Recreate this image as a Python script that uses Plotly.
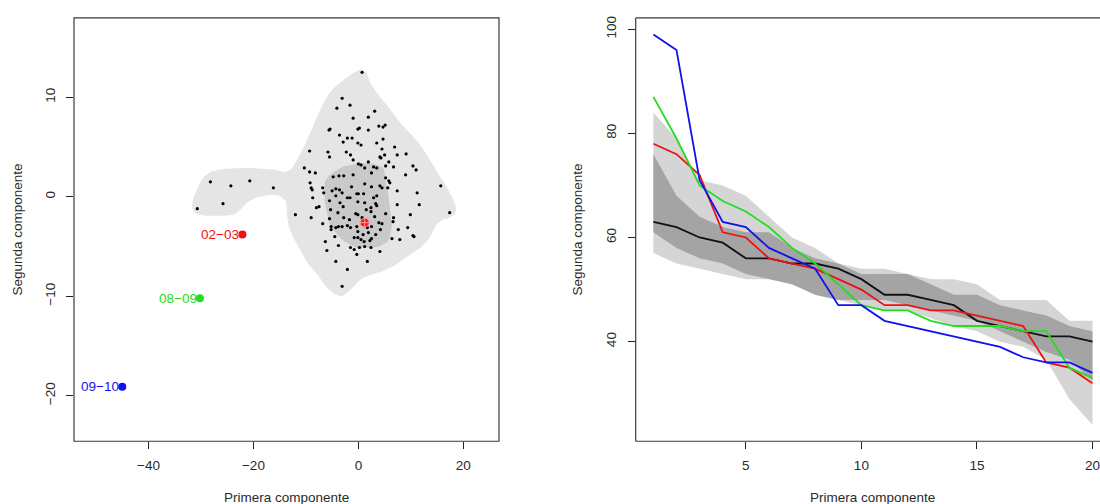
import plotly.graph_objects as go

# ---------------- Left panel data (bagplot) ----------------
pts_x = [0.7, -3.1, -1.6, -4.1, 3.1, -1.0, 1.9, -0.1, 0.2, -5.4, -5.6, 1.9, 3.9, 4.7, 5.1, -3.6, -2.1, -1.2, 4.7, -2.9,
         -0.1, 0.5, 3.5, -2.3, -1.5, -5.8, -5.5, -9.3, 4.5, 6.9, 4.1, 4.3, 5.0, 7.4, 9.1, -1.0, 1.9, 5.8, -10.3, -9.3,
         -8.2, 0.0, 0.5, 2.9, 3.5, 5.2, 6.7, 10.4, 11.0, 9.0, -4.8, -3.7, -2.8, -1.0, 1.2, 2.5, 5.2, 5.8, 6.0, -1.3,
         1.2, 2.5, 4.5, 4.1, -9.2, -9.0, -8.8, -8.7, -6.8, -6.6, -5.0, -4.3, -3.6, -4.3, -3.1, -2.1, -1.6, -0.3, 0.0, 1.0,
         2.9, 3.5, 5.6, 7.4, 11.2, 11.6, 15.7, 17.4, -5.5, -3.5, -0.1, 1.2, 2.4, 3.3, 3.5, 7.4, -8.0, -7.5, -5.3, -2.9,
         -3.9, -0.5, -0.1, 1.5, 2.4, 5.2, 9.9, -12.0, -9.0, 6.7, -5.5, -2.8, -1.7, 0.7, 3.1, 3.9, 4.5, 6.6, -6.8, -5.2,
         -5.2, -4.3, -3.8, -3.1, -2.1, -1.5, -0.3, 1.7, 2.5, -0.1, 9.4, 0.9, 1.9, 3.3, 4.2, 7.6, -4.5, -0.8, -0.1, 0.5,
         2.5, 6.4, 7.9, 10.4, 10.6, 1.1, 2.2, -6.3, -3.8, -1.5, 1.2, 0.2, -0.8, -6.0, 2.4, 4.1, -0.3, -4.3, 1.7, -2.1,
         -3.1, -28.2, -24.3, -20.7, -16.2, -25.8, -30.7]
pts_y = [12.5, 9.9, 9.2, 8.9, 8.6, 7.9, 8.0, 6.8, 6.9, 6.8, 6.7, 6.7, 7.1, 7.0, 7.2, 6.2, 5.9, 5.9, 5.8, 5.5,
         5.4, 5.2, 5.4, 4.5, 4.2, 4.5, 4.0, 4.6, 4.8, 5.0, 4.0, 3.9, 4.2, 4.2, 4.3, 3.7, 3.5, 3.5, 2.9, 2.5,
         2.4, 3.3, 3.2, 3.0, 2.9, 3.1, 3.0, 3.1, 2.7, 2.2, 2.0, 2.1, 2.1, 2.2, 2.9, 2.4, 1.9, 1.6, 1.4, 1.0,
         1.3, 1.0, 0.9, 1.1, 1.4, 0.9, 0.7, -0.1, 0.9, 0.4, 0.6, 0.8, 0.7, 0.1, 0.4, -0.1, -0.1, 0.3, 0.3, 0.3,
         -0.1, 0.1, 0.9, 0.6, 0.4, -0.8, 1.1, -1.6, -0.4, -0.6, -0.5, -0.6, -1.1, -0.7, -0.9, -0.8, -1.1, -1.0, -1.3, -1.0,
         -1.6, -1.7, -1.8, -1.3, -1.5, -1.7, -1.8, -1.8, -2.1, -2.1, -2.2, -2.1, -2.3, -2.1, -2.0, -2.6, -2.7, -2.5, -2.7, -3.0,
         -3.3, -3.1, -3.0, -3.0, -2.9, -3.1, -3.0, -3.1, -3.0, -3.5, -3.1, -3.8, -3.6, -3.8, -3.3, -3.3, -4.0, -4.1, -4.1, -4.3,
         -4.2, -4.2, -4.3, -3.9, -4.0, -4.5, -4.4, -4.5, -4.9, -5.1, -5.0, -5.1, -5.3, -5.4, -5.1, -5.5, -5.8, -6.5, -6.5, -7.3,
         -9.0, 1.5, 1.1, 1.6, 0.9, -0.7, -1.2]

loop_x = [0.5, 1.5, 2.2, 3.9, 5.9, 7.9, 10.2, 12.2, 13.9, 15.3, 16.6, 17.9, 18.6, 18.5, 17.4, 16.1, 14.9, 13.6, 11.9,
          9.9, 7.2, 4.5, 2.5, 0.5, -0.8, -2.1, -3.1, -4.5, -6.2, -7.8, -9.5, -10.8, -12.0, -12.9, -13.4, -13.6, -13.8,
          -15.0, -17.0, -19.5, -21.2, -22.3, -23.4, -24.5, -26.2, -28.9, -30.9, -31.7, -31.4, -30.6, -29.6, -28.2,
          -25.6, -21.5, -17.5, -15.5, -14.2, -12.8, -11.5, -10.2, -8.8, -7.5, -5.8, -4.1, -2.1, -0.8]
loop_y = [12.8, 12.5, 11.5, 10.2, 8.9, 7.5, 6.2, 4.9, 3.5, 2.2, 1.2, -0.1, -1.0, -1.6, -2.1, -2.3, -2.8, -4.1, -5.1,
          -5.8, -6.8, -7.5, -7.8, -8.3, -9.0, -9.6, -10.0, -9.8, -9.0, -7.8, -6.8, -5.6, -4.5, -3.5, -2.6, -1.6, -0.5,
          0.1, 0.2, -0.1, -0.6, -1.2, -1.7, -1.85, -1.9, -1.9, -1.7, -1.1, -0.1, 0.9, 1.9, 2.5,
          2.8, 2.9, 2.8, 2.7, 2.5, 2.8, 3.9, 5.2, 6.9, 8.5, 10.2, 11.2, 12.0, 12.5]

bag_x = [-2.9, 2.2, 4.75, 5.2, 5.7, 6.1, 6.35, 5.7, 4.0, 2.2, -0.3, -3.2, -5.4, -6.4, -6.4, -5.7]
bag_y = [3.05, 3.4, 2.9, 1.5, 0.2, -1.5, -3.1, -4.45, -5.0, -5.1, -5.1, -4.3, -2.8, -0.45, 1.4, 2.05]

median_x = [1.2]
median_y = [-2.6]

out_labels = ["02\u221203", "08\u221209", "09\u221210"]
out_x = [-22.1, -30.2, -45.0]
out_y = [-3.8, -10.2, -19.1]
out_colors = ["#ee1111", "#22dd22", "#1111ee"]

# ---------------- Right panel data (functional boxplot) ----------------
xs = list(range(1, 21))
light_upper = [84, 79, 71, 70, 68, 64, 60, 58, 55, 54, 54, 53, 52, 52, 51, 48, 48, 48, 44, 44]
light_lower = [57, 55, 54, 53, 52, 52, 51, 49, 48, 47, 46, 46, 44.5, 43, 42, 40, 39, 36.5, 29, 24]
dark_upper = [76, 68, 64, 62, 61, 61, 58, 56, 55, 53, 53, 53, 51, 49, 49, 47, 46, 45, 43, 42]
dark_lower = [61, 58, 56, 55, 53, 52, 51, 49, 48, 48, 48, 47, 46, 45, 44, 42, 40, 38, 36.5, 32.5]
median_curve = [63, 62, 60, 59, 56, 56, 55, 55, 54, 52, 49, 49, 48, 47, 44, 43, 42, 41, 41, 40]
curve_0203 = [78, 76, 72, 61, 60, 56, 55, 54, 52, 50, 47, 47, 46, 46, 45, 44, 43, 36, 35, 32]
curve_0809 = [87, 79, 70, 67, 65, 62, 58, 55, 51, 47, 46, 46, 44, 43, 43, 43, 42, 42, 35, 33]
curve_0910 = [99, 96, 71, 63, 62, 58, 56, 54, 47, 47, 44, 43, 42, 41, 40, 39, 37, 36, 36, 34]

FONT = "Liberation Sans, Arial, sans-serif"
TXT = "#2a2a2a"

fig = go.Figure()

# left panel
fig.add_trace(go.Scatter(x=loop_x + [loop_x[0]], y=loop_y + [loop_y[0]], fill="toself", mode="lines",
                         line=dict(width=0, shape="spline", smoothing=0.6), fillcolor="#e5e5e5",
                         xaxis="x", yaxis="y", hoverinfo="skip", showlegend=False))
fig.add_trace(go.Scatter(x=bag_x + [bag_x[0]], y=bag_y + [bag_y[0]], fill="toself", mode="lines",
                         line=dict(width=0, shape="spline", smoothing=0.5), fillcolor="#c9c9c9",
                         xaxis="x", yaxis="y", hoverinfo="skip", showlegend=False))
fig.add_trace(go.Scatter(x=pts_x, y=pts_y, mode="markers", marker=dict(color="black", size=3.2),
                         xaxis="x", yaxis="y", showlegend=False))
fig.add_trace(go.Scatter(x=median_x, y=median_y, mode="markers",
                         marker=dict(color="#ee2222", size=9, symbol="circle-cross",
                                     line=dict(color="#ff9a9a", width=1)),
                         xaxis="x", yaxis="y", showlegend=False))
fig.add_trace(go.Scatter(x=out_x, y=out_y, mode="markers", marker=dict(color=out_colors, size=8),
                         xaxis="x", yaxis="y", showlegend=False))
for lab, xv, yv, c in zip(out_labels, out_x, out_y, out_colors):
    fig.add_annotation(x=xv, y=yv, xref="x", yref="y", text=lab, showarrow=False,
                       xanchor="right", yanchor="middle", xshift=-1,
                       font=dict(family=FONT, size=13.5, color=c))

# right panel bands
fig.add_trace(go.Scatter(x=xs, y=light_upper, mode="lines", line=dict(width=0), xaxis="x2", yaxis="y2",
                         hoverinfo="skip", showlegend=False))
fig.add_trace(go.Scatter(x=xs, y=light_lower, mode="lines", line=dict(width=0), fill="tonexty",
                         fillcolor="#d5d5d5", xaxis="x2", yaxis="y2", hoverinfo="skip", showlegend=False))
fig.add_trace(go.Scatter(x=xs, y=dark_upper, mode="lines", line=dict(width=0), xaxis="x2", yaxis="y2",
                         hoverinfo="skip", showlegend=False))
fig.add_trace(go.Scatter(x=xs, y=dark_lower, mode="lines", line=dict(width=0), fill="tonexty",
                         fillcolor="#a4a4a4", xaxis="x2", yaxis="y2", hoverinfo="skip", showlegend=False))
for ys, c in [(median_curve, "#111111"), (curve_0203, "#ee1111"), (curve_0809, "#22dd22"), (curve_0910, "#1111ee")]:
    fig.add_trace(go.Scatter(x=xs, y=ys, mode="lines", line=dict(color=c, width=1.8),
                             xaxis="x2", yaxis="y2", showlegend=False))

axis_common = dict(showgrid=False, zeroline=False, ticks="outside", ticklen=7, tickwidth=1,
                   tickcolor="#222", showline=False, ticklabeloverflow="allow",
                   tickfont=dict(family=FONT, size=13.5, color=TXT))

H = 504.0
W = 1100.0
fig.update_layout(
    width=1100, height=504, margin=dict(l=0, r=0, t=0, b=0),
    paper_bgcolor="white", plot_bgcolor="white", showlegend=False,
    xaxis=dict(domain=[74 / W, 499 / W], range=[-54.2, 26.8], tickvals=[-40, -20, 0, 20],
               ticklabelstandoff=5, anchor="y", **axis_common),
    yaxis=dict(domain=[(H - 441) / H, (H - 16) / H], range=[-24.57, 17.97], tickvals=[-20, -10, 0, 10],
               tickangle=-90, ticklabelstandoff=6, anchor="x", **axis_common),
    xaxis2=dict(domain=[635.7 / W, 1.0], range=[0.234, 20.325], tickvals=[5, 10, 15, 20],
                ticklabelstandoff=5, anchor="y2", **axis_common),
    yaxis2=dict(domain=[(H - 441) / H, (H - 16) / H], range=[20.87, 102.16], tickvals=[40, 60, 80, 100],
                tickangle=-90, ticklabelstandoff=6, anchor="x2", **axis_common),
)

# boxes
box_col = "#3a3a3a"
fig.add_shape(type="rect", xref="x domain", yref="y domain", x0=0, x1=1, y0=0, y1=1,
              line=dict(color=box_col, width=1.2), fillcolor="rgba(0,0,0,0)", layer="above")
for (x0, y0, x1, y1) in [(0, 0, 0, 1), (0, 1, 1, 1), (0, 0, 1, 0)]:
    fig.add_shape(type="line", xref="x2 domain", yref="y2 domain", x0=x0, y0=y0, x1=x1, y1=y1,
                  line=dict(color=box_col, width=1.2), layer="above")

# axis titles
for txt, xp, yp, ang in [("Primera componente", 286.5, 497, 0), ("Primera componente", 873, 497, 0),
                         ("Segunda componente", 18, 228.5, -90), ("Segunda componente", 578, 228.5, -90)]:
    fig.add_annotation(x=xp / W, y=1 - yp / H, xref="paper", yref="paper", text=txt, showarrow=False,
                       textangle=ang, xanchor="center", yanchor="middle",
                       font=dict(family=FONT, size=13.5, color=TXT))

fig.write_html("out.html", config={"displayModeBar": False},
               post_script="document.body.style.margin='0';document.body.style.overflow='hidden';")
